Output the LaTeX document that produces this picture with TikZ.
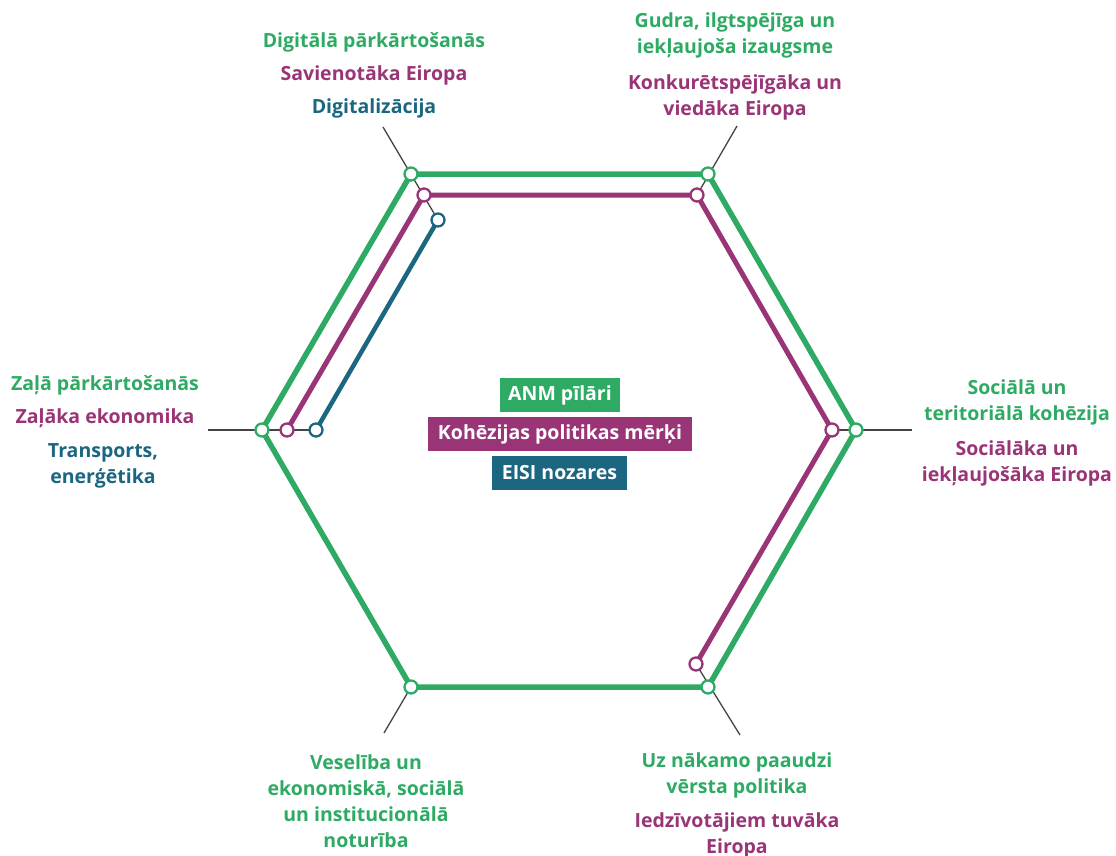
\documentclass[tikz,border=0pt]{standalone}
\usepackage{fontspec}
\setmainfont{Open Sans}
\definecolor{gr}{HTML}{2EAA64}
\definecolor{mg}{HTML}{993577}
\definecolor{bl}{HTML}{1B6680}
\definecolor{gy}{HTML}{444444}
\begin{document}
\begin{tikzpicture}[x=1pt,y=-1pt,
  vtx/.style={circle,draw=#1,fill=white,line width=2.3pt,minimum size=13pt,inner sep=0pt},
  lbl/.style={text=#1,font=\fontsize{19.5}{26}\selectfont\bfseries,align=center,inner sep=0pt},
  box/.style={fill=#1,text=white,font=\fontsize{19.5}{22}\selectfont\bfseries,inner sep=0pt},
  tick/.style={draw=gy,line width=1.3pt}]
\useasboundingbox (0,0) rectangle (1116,855);
% gray ticks
\coordinate (t1) at (383,127);
\coordinate (t2) at (737,126);
\coordinate (t3) at (912,430);
\coordinate (t4) at (740,735);
\coordinate (t5) at (384,733);
\coordinate (t6) at (208,430);
% vertices positions
\coordinate (g1) at (411,174);
\coordinate (g2) at (708,174);
\coordinate (g3) at (856,430);
\coordinate (g4) at (708,687);
\coordinate (g5) at (411,687);
\coordinate (g6) at (262,430);
\coordinate (m1) at (424,195);
\coordinate (m2) at (697,195);
\coordinate (m3) at (832,430);
\coordinate (m4) at (696,664);
\coordinate (m6) at (287,430);
\coordinate (b1) at (438,220);
\coordinate (b6) at (316,430);
\draw[tick] (t1) -- (b1);
\draw[tick] (t2) -- (m2);
\draw[tick] (m3) -- (t3);
\draw[tick] (m4) -- (t4);
\draw[tick] (g5) -- (t5);
\draw[tick] (t6) -- (b6);
\draw[gr,line width=5.5pt,line join=miter] (g1) -- (g2) -- (g3) -- (g4) -- (g5) -- (g6) -- cycle;
\draw[mg,line width=5pt,line join=miter] (m6) -- (m1) -- (m2) -- (m3) -- (m4);
\draw[bl,line width=4.5pt] (b6) -- (b1);
\foreach \n in {g1,g2,g3,g4,g5,g6} \node[vtx=gr] (c\n) at (\n) {};
\foreach \n in {m1,m2,m3,m4,m6} \node[vtx=mg] (c\n) at (\n) {};
\foreach \n in {b1,b6} \node[vtx=bl] (c\n) at (\n) {};
% labels
\node[lbl=gr] (l1a) at (374,42) {Digitālā pārkārtošanās};
\node[lbl=mg] (l1b) at (374,75) {Savienotāka Eiropa};
\node[lbl=bl] (l1c) at (374,108) {Digitalizācija};
\node[lbl=gr] (l2a) at (735,35.5) {Gudra, ilgtspējīga un\\iekļaujoša izaugsme};
\node[lbl=mg] (l2b) at (735,97.5) {Konkurētspējīgāka un\\viedāka Eiropa};
\node[lbl=gr] (l6a) at (105,385) {Zaļā pārkārtošanās};
\node[lbl=mg] (l6b) at (105,418) {Zaļāka ekonomika};
\node[lbl=bl] (l6c) at (103,465.5) {Transports,\\enerģētika};
\node[lbl=gr] (l3a) at (1017,402) {Sociālā un\\teritoriālā kohēzija};
\node[lbl=mg] (l3b) at (1017,463) {Sociālāka un\\iekļaujošāka Eiropa};
\node[lbl=gr] (l5a) at (366,801) {Veselība un\\ekonomiskā, sociālā\\un institucionālā\\noturība};
\node[lbl=gr] (l4a) at (737,775) {Uz nākamo paaudzi\\vērsta politika};
\node[lbl=mg] (l4b) at (737,835) {Iedzīvotājiem tuvāka\\Eiropa};
% central boxes
\node[box=gr,minimum width=120pt,minimum height=34pt] (k1) at (560,395) {ANM pīlāri};
\node[box=mg,minimum width=264pt,minimum height=34pt] (k2) at (560,434) {Kohēzijas politikas mērķi};
\node[box=bl,minimum width=135pt,minimum height=34pt] (k3) at (559.5,473) {EISI nozares};
\end{tikzpicture}
\end{document}
